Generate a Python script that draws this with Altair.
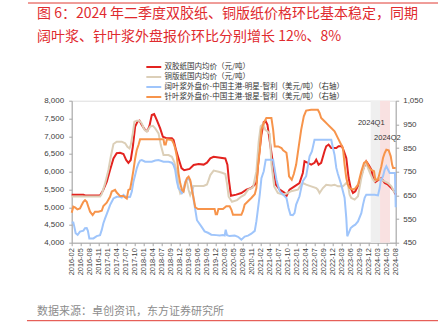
import altair as alt
import pandas as pd

x_labels = ["2016-02", "2016-05", "2016-08", "2016-11", "2017-01", "2017-04", "2017-07", "2017-10",
            "2018-01", "2018-04", "2018-07", "2018-09", "2018-12", "2019-03", "2019-06", "2019-09",
            "2019-12", "2020-03", "2020-05", "2020-08", "2020-11", "2021-02", "2021-04", "2021-07",
            "2021-10", "2022-01", "2022-04", "2022-07", "2022-09", "2022-12", "2023-03", "2023-06",
            "2023-09", "2023-12", "2024-03", "2024-05", "2024-08"]

names = ["双胶纸国内均价（元/吨）", "铜版纸国内均价（元/吨）",
         "阔叶浆外盘价-中国主港-明星-智利（美元/吨）（右轴）",
         "针叶浆外盘价-中国主港-银星-智利（美元/吨）（右轴）"]
colors = ["#e3231f", "#dccfb8", "#9fc5fb", "#f7944b"]

# positions on the category axis (0 = 2016-02 ... 36 = 2024-08)
t_red = [0, 1.3, 1.5, 3.15, 3.5, 3.9, 4.26, 4.64, 5.0, 5.38, 5.75, 6.05, 6.3, 6.56, 6.79, 7.05, 7.31, 7.53, 7.79, 8.16,
         8.42, 8.64, 8.9, 9.16, 9.46, 9.83, 10.13, 10.58, 11.13, 11.32, 11.6, 11.9, 12.2, 12.5, 13.1, 13.55, 14.1, 14.66, 15.03, 15.4,
         15.77, 16.33, 17.07, 17.3, 17.45, 17.7, 18.29, 18.85, 19.41, 19.96, 20.52, 20.82, 21.08, 21.34, 21.56, 21.75, 22.01, 22.38, 22.68, 23.12,
         23.68, 23.86, 24.2, 24.76, 25.31, 25.68, 25.87, 26.24, 26.61, 26.98, 27.17, 27.43, 27.72, 28.09, 28.28, 28.54, 28.84, 29.4, 29.65, 30.03,
         30.25, 30.51, 30.77, 31.0, 31.25, 31.51, 31.88, 32.37, 32.73, 32.99, 33.29, 33.48, 33.74, 34.03, 34.41, 34.78, 35.15, 35.52, 35.82, 36.0]
v_red = [5350, 5350, 5330, 5330, 5480, 5720, 6050, 6375, 6520, 6535, 6500, 6330, 6250, 6330, 6700, 7270, 7410, 7440, 7315, 7170,
         7150, 7290, 7600, 7625, 7455, 7220, 6985, 6940, 6940, 6890, 6600, 6350, 6100, 6040, 6080, 6190, 6215, 6200, 6255, 6375,
         6420, 6400, 6375, 6200, 5800, 5320, 5354, 5400, 5493, 5540, 5682, 6479, 7042, 7400, 7419, 7324, 6856, 6197, 5634, 5493,
         5400, 5307, 5493, 5587, 5682, 5963, 6293, 6250, 6197, 6250, 6340, 6197, 6250, 6575, 6716, 6763, 6669, 6669, 6716, 6716,
         6575, 6386, 5822, 5540, 5400, 5450, 5634, 6056, 6293, 6197, 6056, 5822, 5709, 5760, 5822, 5682, 5634, 5540, 5450, 5354]

t_beige = [0, 3.15, 3.34, 3.71, 4.08, 4.34, 4.64, 5.0, 5.56, 5.94, 6.19, 6.42, 6.56, 6.79, 6.97, 7.23, 7.53, 7.79, 8.05, 8.35,
           8.72, 9.02, 9.28, 9.65, 9.9, 10.2, 10.76, 11.13, 11.39, 11.69, 11.87, 12.06, 12.36, 12.62, 12.8, 12.99, 13.17, 13.36, 13.55, 14.66,
           15.03, 15.21, 15.4, 15.77, 16.33, 16.7, 17.07, 17.25, 17.44, 17.81, 18.37, 18.85, 19.22, 19.59, 20.15, 20.52, 20.78, 21.0, 21.27, 21.52,
           21.82, 22.0, 22.2, 22.5, 22.9, 23.5, 24.01, 24.38, 25.13, 25.5, 25.68, 26.05, 26.61, 27.17, 27.35, 27.54, 27.91, 28.28, 28.84, 29.21,
           29.58, 30.14, 30.51, 30.69, 30.88, 31.06, 31.44, 31.81, 32.18, 32.55, 32.73, 32.92, 33.22, 33.48, 33.66, 34.03, 34.41, 34.78, 35.15, 35.52, 35.89]
v_beige = [5300, 5300, 5370, 5670, 6047, 6420, 6780, 6845, 6845, 6800, 6700, 6655, 6750, 7080, 7410, 7437, 7437, 7360, 7190, 7127,
           7270, 7290, 7220, 7080, 6750, 6470, 6470, 6420, 6280, 6000, 5580, 5390, 5480, 5700, 5720, 5485, 5340, 5450, 5600, 5600,
           5640, 5765, 5905, 6030, 6000, 5970, 5935, 5670, 5296, 5155, 5200, 5300, 5354, 5493, 5560, 6009, 6856, 7280, 7343, 7180,
           7118, 7070, 6200, 5587, 5400, 5350, 5400, 5450, 5493, 5634, 5682, 5634, 5587, 5540, 5493, 5400, 5540, 5634, 5615, 5634,
           5587, 5587, 5682, 5634, 5354, 5260, 5213, 5307, 5822, 6197, 6240, 6100, 5916, 5775, 5728, 5822, 5775, 5728, 5682, 5587, 5400]

t_blue = [0, 0.18, 0.29, 0.44, 0.66, 0.92, 1.3, 1.48, 1.67, 1.8, 1.96, 2.41, 2.78, 3.15, 3.34, 3.52, 3.71, 3.89, 4.08, 4.26,
          4.45, 4.64, 5.0, 5.38, 5.56, 5.75, 6.12, 6.49, 6.68, 6.86, 7.05, 7.23, 7.42, 7.6, 7.79, 8.16, 8.9, 9.28, 9.65, 10.2,
          10.76, 11.13, 11.32, 11.5, 11.69, 11.87, 12.06, 12.25, 12.43, 12.65, 12.91, 13.17, 13.4, 13.55, 13.73, 13.92, 14.4, 14.77, 15.14, 15.51,
          16.07, 16.44, 16.81, 17.0, 17.11, 17.26, 17.55, 18.11, 18.48, 18.85, 19.22, 19.59, 19.96, 20.34, 20.52, 20.71, 20.89, 21.08, 21.34, 21.56,
          22.01, 22.38, 22.56, 22.75, 22.94, 23.12, 23.49, 23.86, 23.94, 24.09, 24.31, 24.57, 24.76, 24.94, 25.31, 25.5, 25.68, 26.05, 26.43, 26.69,
          26.98, 28.84, 29.03, 29.21, 29.4, 29.58, 29.95, 30.32, 30.51, 30.62, 30.77, 31.0, 31.25, 31.51, 31.81, 32.18, 32.37, 32.55, 32.73, 33.66,
          34.03, 34.22, 34.33, 34.59, 34.78, 34.96, 35.33, 35.71, 35.92, 36.0]
v_blue = [535, 535, 518, 490, 483, 497, 501, 511, 512, 500, 468, 468, 478, 482, 504, 532, 553, 571, 590, 609,
          623, 637, 644, 644, 641, 652, 641, 644, 666, 708, 736, 764, 785, 797, 799, 792, 792, 797, 799, 792,
          792, 788, 778, 757, 708, 680, 673, 659, 667, 710, 723, 710, 681, 630, 590, 545, 519, 498, 492, 484,
          482, 480, 482, 480, 505, 482, 478, 480, 475, 463, 476, 480, 488, 500, 540, 597, 651, 723, 752, 801,
          801, 801, 759, 716, 690, 667, 653, 639, 625, 597, 568, 566, 575, 611, 646, 681, 710, 731, 815, 836,
          885, 885, 850, 820, 766, 740, 695, 640, 554, 477, 490, 512, 520, 526, 540, 575, 611, 640, 653, 653,
          650, 681, 710, 731, 759, 773, 745, 745, 745, 600]

t_orange = [0, 0.18, 0.37, 0.63, 0.92, 1.11, 1.3, 1.48, 1.67, 1.85, 2.04, 2.33, 2.59, 2.97, 3.34, 3.52, 3.89, 4.26, 4.45, 4.82,
            5.0, 5.38, 5.75, 6.12, 6.3, 6.49, 6.68, 6.86, 7.05, 7.23, 7.42, 7.6, 10.2, 10.3, 10.45, 10.58, 11.13, 11.32, 11.5, 11.69,
            11.87, 12.06, 12.25, 12.43, 12.62, 12.8, 12.99, 13.17, 13.36, 13.55, 13.73, 14.03, 15.88, 16.0, 16.15, 16.3, 16.81, 17.18, 17.55, 17.74,
            17.92, 18.85, 19.04, 19.22, 19.59, 19.96, 20.34, 20.52, 20.71, 20.89, 21.08, 21.34, 21.63, 22.19, 22.38, 22.56, 22.94, 23.31, 23.49, 23.86,
            24.0, 24.15, 24.45, 24.68, 24.94, 25.2, 25.5, 25.79, 26.05, 26.61, 27.35, 27.54, 27.72, 28.09, 28.46, 28.84, 29.21, 29.58, 29.95, 30.14,
            30.32, 30.51, 30.69, 30.88, 31.25, 31.51, 31.81, 32.18, 32.48, 32.73, 32.99, 33.22, 33.59, 33.74, 34.03, 34.22, 34.41, 34.59, 34.78, 34.96,
            35.22, 35.45, 35.6, 35.71, 36.0]
v_orange = [577, 602, 599, 591, 595, 609, 623, 630, 623, 602, 581, 567, 581, 581, 585, 605, 619, 644, 666, 673,
            662, 647, 647, 637, 673, 676, 715, 757, 806, 842, 863, 887, 887, 865, 865, 887, 884, 870, 849, 813,
            743, 701, 673, 666, 701, 722, 729, 715, 673, 637, 600, 592, 592, 570, 570, 592, 592, 604, 604, 590,
            568, 568, 585, 611, 625, 639, 655, 681, 780, 836, 928, 956, 977, 977, 928, 857, 857, 850, 840, 830,
            790, 730, 716, 740, 780, 850, 928, 984, 1008, 1012, 1012, 998, 977, 963, 949, 935, 921, 892, 864, 850,
            780, 723, 695, 681, 674, 680, 695, 752, 787, 794, 773, 759, 752, 716, 716, 745, 773, 808, 829, 843,
            840, 815, 780, 766, 766]

band_names = ["2024Q1", "2024Q2"]
band_start = [33.22, 34.26]
band_end = [34.26, 35.37]
band_label_t = [31.8, 33.6]
band_label_v = [7372, 6958]

title_lines = ["图 6：2024 年二季度双胶纸、铜版纸价格环比基本稳定，同期",
               "阔叶浆、针叶浆外盘报价环比分别增长 12%、8%"]
source_text = "数据来源：卓创资讯，东方证券研究所"

left_df = pd.concat([
    pd.DataFrame({"t": t_red, "v": v_red, "s": names[0]}),
    pd.DataFrame({"t": t_beige, "v": v_beige, "s": names[1]}),
])
right_df = pd.concat([
    pd.DataFrame({"t": t_blue, "v": v_blue, "s": names[2]}),
    pd.DataFrame({"t": t_orange, "v": v_orange, "s": names[3]}),
])
band_df = pd.DataFrame({"q": band_names, "start": band_start, "end": band_end,
                        "lt": band_label_t, "lv": band_label_v})

AX_FONT = "Liberation Sans"
CJK = "Noto Sans CJK SC"
AX_COL = "#a6a6a6"
LBL_COL = "#404040"

label_js = "[" + ",".join("'%s'" % s for s in x_labels) + "]"
x_axis = alt.Axis(values=list(range(37)), labelExpr=label_js + "[datum.value]", labelAngle=270,
                  labelFontSize=7.4, labelFont=AX_FONT, labelColor=LBL_COL, labelPadding=2,
                  tickSize=3, tickColor=AX_COL, domainColor=AX_COL, grid=False, title=None,
                  labelOverlap=False)
x_scale = alt.Scale(domain=[0, 36], nice=False, zero=False)

yl_axis = alt.Axis(values=list(range(4000, 8001, 500)), format=",.0f", labelFontSize=8, labelFont=AX_FONT,
                   labelColor=LBL_COL, tickSize=3, tickColor=AX_COL, domainColor=AX_COL, grid=False,
                   title=None, labelPadding=5)
yl_scale = alt.Scale(domain=[4000, 8000], nice=False, zero=False)
yr_axis = alt.Axis(values=list(range(450, 1051, 100)), format=",.0f", labelFontSize=8, labelFont=AX_FONT,
                   labelColor=LBL_COL, tickSize=3, tickColor=AX_COL, domainColor=AX_COL, grid=False,
                   title=None, orient="right", labelPadding=4)
yr_scale = alt.Scale(domain=[450, 1050], nice=False, zero=False)

color_scale = alt.Scale(domain=names, range=colors)
legend = alt.Legend(title=None, orient="none", legendX=76.1, legendY=-39.7, direction="vertical",
                    symbolType="M-1.6,0H1.6", symbolSize=87, symbolStrokeWidth=2,
                    labelFontSize=7.5, labelFont=CJK, labelColor="#333333", rowPadding=0,
                    labelOffset=4.8, padding=0, symbolOffset=0, labelLimit=400)

bands_q1 = alt.Chart(band_df).transform_filter(alt.datum.q == "2024Q1").mark_rect(color="#efefef").encode(
    x=alt.X("start:Q", scale=x_scale, axis=x_axis), x2="end:Q")
bands_q2 = alt.Chart(band_df).transform_filter(alt.datum.q == "2024Q2").mark_rect(color="#f9e1e1").encode(
    x=alt.X("start:Q", scale=x_scale, axis=x_axis), x2="end:Q")

left_lines = alt.Chart(left_df).mark_line(strokeWidth=2).encode(
    x=alt.X("t:Q", scale=x_scale, axis=x_axis),
    y=alt.Y("v:Q", scale=yl_scale, axis=yl_axis),
    color=alt.Color("s:N", scale=color_scale, legend=legend, sort=names),
    order="t:Q",
)

band_text = alt.Chart(band_df).mark_text(align="left", baseline="middle", fontSize=7.5, font=AX_FONT,
                                         color="#333333").encode(
    x=alt.X("lt:Q", scale=x_scale, axis=x_axis),
    y=alt.Y("lv:Q", scale=yl_scale, axis=yl_axis),
    text="q:N")

deco = pd.DataFrame({"a": [0]})
top_rule = alt.Chart(deco).mark_rule(color="#e03a32", strokeWidth=1).encode(
    x=alt.value(-43.7), x2=alt.value(366.3), y=alt.value(-97.7))
bottom_rule = alt.Chart(deco).mark_rule(color="#e03a32", strokeWidth=1).encode(
    x=alt.value(-44.7), x2=alt.value(366.3), y=alt.value(220))
title1 = alt.Chart(pd.DataFrame({"t": [title_lines[0]]})).mark_text(
    align="left", baseline="middle", fontSize=14, font=CJK, color="#df2a2e").encode(
    text="t:N", x=alt.value(-34.7), y=alt.value(-86.7))
title2 = alt.Chart(pd.DataFrame({"t": [title_lines[1]]})).mark_text(
    align="left", baseline="middle", fontSize=14, font=CJK, color="#df2a2e").encode(
    text="t:N", x=alt.value(-34.7), y=alt.value(-63.7))
source = alt.Chart(pd.DataFrame({"t": [source_text]})).mark_text(
    align="left", baseline="middle", fontSize=11, font=CJK, color="#8c8c8c").encode(
    text="t:N", x=alt.value(-34.7), y=alt.value(211.3))

right_lines = alt.Chart(right_df).mark_line(strokeWidth=2).encode(
    x=alt.X("t:Q", scale=x_scale, axis=x_axis),
    y=alt.Y("v:Q", scale=yr_scale, axis=yr_axis),
    color=alt.Color("s:N", scale=color_scale, legend=legend, sort=names),
    order="t:Q",
)

left_layer = alt.layer(bands_q1, bands_q2, left_lines, band_text, top_rule, bottom_rule, title1, title2, source)

chart = alt.layer(left_layer, right_lines).resolve_scale(y="independent").properties(
    width=324, height=142,
    autosize=alt.AutoSizeParams(type="none"),
    padding={"left": 71.7, "top": 100.7, "right": 50.3, "bottom": 86.3},
).configure_view(stroke=None).configure(background="white")

chart.save("out.html", embed_options={"renderer": "svg", "actions": False})
